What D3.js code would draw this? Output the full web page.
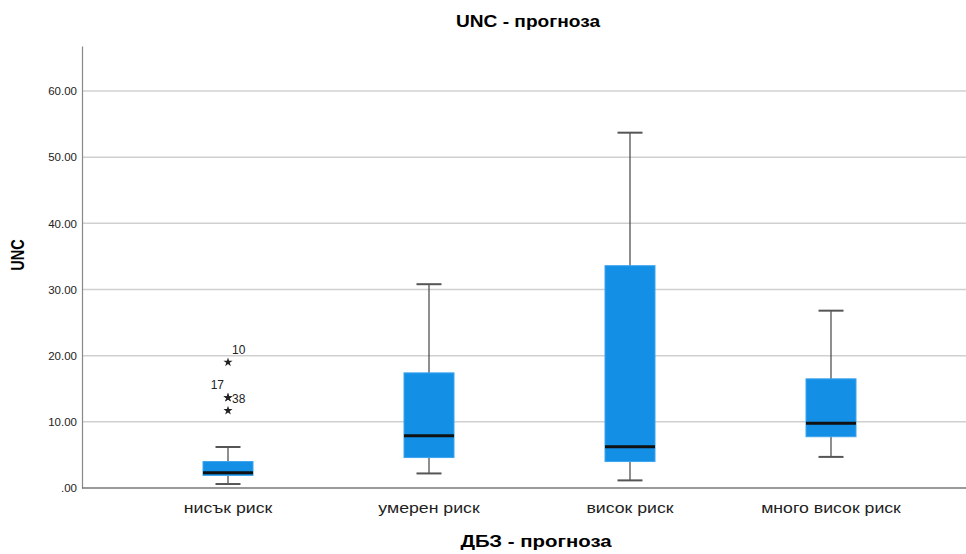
<!DOCTYPE html>
<html>
<head>
<meta charset="utf-8">
<script src="https://cdn.jsdelivr.net/npm/d3@7"></script>
<style>
  body { margin: 0; background: #fff; }
  text { font-family: "Liberation Sans", Arial, sans-serif; }
</style>
</head>
<body>
<div id="chart"></div>
<script>
// groups and box statistics
var categories = ["нисък риск", "умерен риск", "висок риск", "много висок риск"];
var whiskerLow = [0.6, 2.2, 1.15, 4.7];
var q1 = [1.9, 4.6, 4.0, 7.75];
var median = [2.3, 7.9, 6.25, 9.8];
var q3 = [4.0, 17.4, 33.6, 16.5];
var whiskerHigh = [6.2, 30.8, 53.7, 26.8];
// outliers: group index, value, case label, label side
var outliers = [
    { g: 0, v: 19.0, label: "10", dx: 4, dy: -8, anchor: "start" },
    { g: 0, v: 13.65, label: "17", dx: -4, dy: -9, anchor: "end" },
    { g: 0, v: 13.65, label: "38", dx: 4, dy: 5, anchor: "start" },
    { g: 0, v: 11.7, label: "", dx: 0, dy: 0, anchor: "start" }
];
var yTicks = [0, 10, 20, 30, 40, 50, 60];

function init() {
    boxplot();
}

function boxplot() {
    var w = 966;
    var h = 554;
    var left = 82, right = 966, top = 46, bottom = 488;

    var svg = d3.select("#chart")
        .append("svg")
        .attr("width", w)
        .attr("height", h);

    var x = d3.scaleBand()
        .domain(categories)
        .range([127.5, 931.5]);

    var y = d3.scaleLinear()
        .domain([0, 66.8])
        .range([bottom, top]);

    // gridlines
    svg.selectAll("line.grid")
        .data(yTicks.slice(1))
        .enter()
        .append("line")
        .attr("class", "grid")
        .attr("x1", left)
        .attr("x2", right)
        .attr("y1", function (d) { return y(d); })
        .attr("y2", function (d) { return y(d); })
        .attr("stroke", "#d0d0d0")
        .attr("stroke-width", 1.5);

    // y axis
    var yAxis = d3.axisLeft(y)
        .tickValues(yTicks)
        .tickSize(0)
        .tickPadding(5)
        .tickFormat(function (d) { return d === 0 ? ".00" : d3.format(".2f")(d); });
    var gy = svg.append("g")
        .attr("transform", "translate(" + left + ",0)")
        .call(yAxis);
    gy.select(".domain").attr("stroke", "#888").attr("stroke-width", 1.2);
    gy.selectAll("text").attr("font-size", 11.5).attr("fill", "#222");

    // x axis
    var xAxis = d3.axisBottom(x).tickSize(0).tickPadding(14);
    var gx = svg.append("g")
        .attr("transform", "translate(0," + bottom + ")")
        .call(xAxis);
    gx.select(".domain").remove();
    gx.selectAll("text")
        .attr("font-size", 15)
        .attr("fill", "#222")
        .attr("transform", "scale(1.18,1)");
    svg.append("line")
        .attr("x1", left).attr("x2", right)
        .attr("y1", bottom).attr("y2", bottom)
        .attr("stroke", "#777").attr("stroke-width", 1.5);

    var boxW = 50, capW = 25;
    var idx = d3.range(categories.length);
    function cx(i) { return x(categories[i]) + x.bandwidth() / 2; }

    // whiskers
    svg.selectAll("line.whisker")
        .data(idx)
        .enter()
        .append("line")
        .attr("x1", cx).attr("x2", cx)
        .attr("y1", function (i) { return y(whiskerLow[i]); })
        .attr("y2", function (i) { return y(whiskerHigh[i]); })
        .attr("stroke", "#444").attr("stroke-width", 1.2);

    [whiskerLow, whiskerHigh].forEach(function (arr) {
        svg.selectAll(null)
            .data(idx)
            .enter()
            .append("line")
            .attr("x1", function (i) { return cx(i) - capW / 2; })
            .attr("x2", function (i) { return cx(i) + capW / 2; })
            .attr("y1", function (i) { return y(arr[i]); })
            .attr("y2", function (i) { return y(arr[i]); })
            .attr("stroke", "#555").attr("stroke-width", 2);
    });

    // boxes
    svg.selectAll("rect.box")
        .data(idx)
        .enter()
        .append("rect")
        .attr("x", function (i) { return cx(i) - boxW / 2; })
        .attr("width", boxW)
        .attr("y", function (i) { return y(q3[i]); })
        .attr("height", function (i) { return y(q1[i]) - y(q3[i]); })
        .attr("fill", "#1390e6")
        .attr("stroke", "#3fa4ee")
        .attr("stroke-width", 1);

    // medians
    svg.selectAll("line.median")
        .data(idx)
        .enter()
        .append("line")
        .attr("x1", function (i) { return cx(i) - boxW / 2; })
        .attr("x2", function (i) { return cx(i) + boxW / 2; })
        .attr("y1", function (i) { return y(median[i]); })
        .attr("y2", function (i) { return y(median[i]); })
        .attr("stroke", "#111").attr("stroke-width", 3);

    // outliers (extreme values, star)
    var star = d3.symbol().type(d3.symbolStar).size(26);
    svg.selectAll("path.out")
        .data(outliers)
        .enter()
        .append("path")
        .attr("d", star)
        .attr("transform", function (d) { return "translate(" + cx(d.g) + "," + y(d.v) + ")"; })
        .attr("fill", "#222");

    svg.selectAll("text.outlabel")
        .data(outliers.filter(function (d) { return d.label; }))
        .enter()
        .append("text")
        .attr("x", function (d) { return cx(d.g) + d.dx; })
        .attr("y", function (d) { return y(d.v) + d.dy; })
        .attr("text-anchor", function (d) { return d.anchor; })
        .attr("font-size", 12)
        .attr("fill", "#222")
        .text(function (d) { return d.label; });

    // titles
    svg.append("text")
        .attr("transform", "translate(528,27) scale(1.16,1)")
        .attr("text-anchor", "middle")
        .attr("font-size", 16.5).attr("font-weight", "bold")
        .text("UNC - прогноза");

    svg.append("text")
        .attr("transform", "translate(24,255) scale(1.25,1) rotate(-90)")
        .attr("text-anchor", "middle")
        .attr("font-size", 14.5).attr("font-weight", "bold")
        .text("UNC");

    svg.append("text")
        .attr("transform", "translate(536,547) scale(1.2,1)")
        .attr("text-anchor", "middle")
        .attr("font-size", 17).attr("font-weight", "bold")
        .text("ДБЗ - прогноза");
}

window.onload = init;
</script>
</body>
</html>
